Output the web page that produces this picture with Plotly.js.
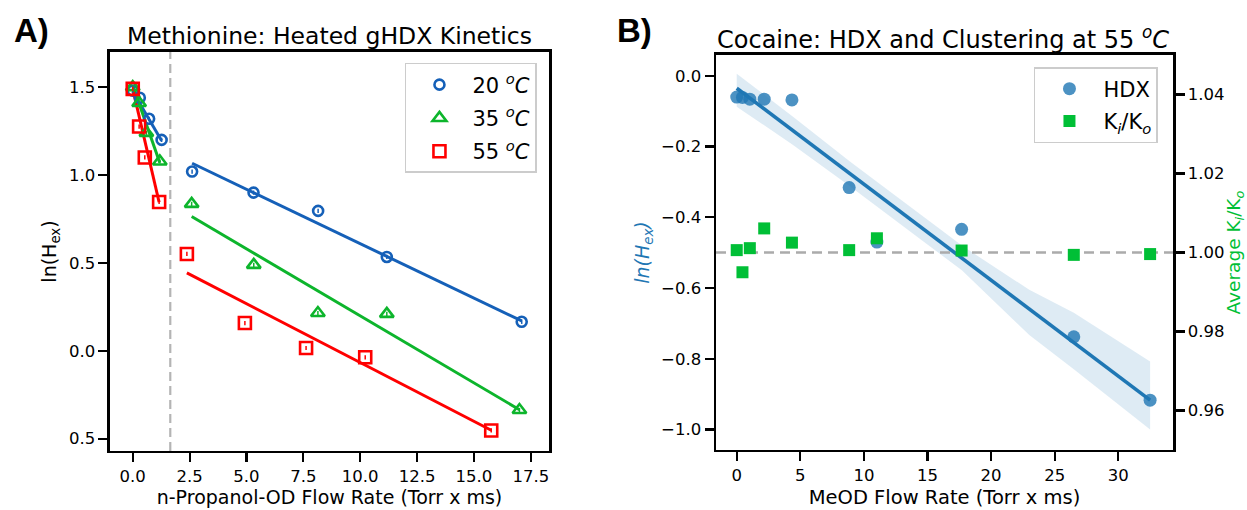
<!DOCTYPE html>
<html>
<head>
<meta charset="utf-8">
<script src="https://cdn.plot.ly/plotly-3.0.1.min.js"></script>
<style>html,body{margin:0;padding:0;background:#fff;}#chart{width:1247px;height:510px;}</style>
</head>
<body>
<div id="chart"></div>
<script>
// ---------- Panel A: Methionine heated gHDX kinetics ----------
const t20X = [0, 0.31, 0.72, 1.27, 2.61, 5.31, 8.15, 11.17, 17.1];
const t20Y = [1.48, 1.44, 1.32, 1.20, 1.02, 0.90, 0.796, 0.534, 0.165];
const t35X = [0, 0.28, 0.60, 1.19, 2.59, 5.32, 8.14, 11.17, 17.0];
const t35Y = [1.50, 1.41, 1.24, 1.077, 0.836, 0.489, 0.215, 0.21, -0.337];
const t55X = [0, 0.28, 0.53, 1.16, 2.38, 4.93, 7.62, 10.22, 15.76];
const t55Y = [1.49, 1.276, 1.10, 0.847, 0.551, 0.158, 0.016, -0.037, -0.453];
const errA = 0.012;

// fitted lines
const fit20EarlyX = [0, 1.27], fit20EarlyY = [1.475, 1.195];
const fit35EarlyX = [0, 1.19], fit35EarlyY = [1.51, 1.07];
const fit55EarlyX = [0, 1.16], fit55EarlyY = [1.49, 0.845];
const fit20LateX = [2.61, 17.1], fit20LateY = [1.067, 0.17];
const fit35LateX = [2.59, 17.0], fit35LateY = [0.764, -0.335];
const fit55LateX = [2.38, 15.76], fit55LateY = [0.443, -0.452];
const cutoffX = 1.65;

const ticksAX = [0, 2.5, 5, 7.5, 10, 12.5, 15, 17.5];
const ticksAY = [-0.5, 0, 0.5, 1.0, 1.5];
const ticksAYText = ['0.5', '0.0', '0.5', '1.0', '1.5'];

// ---------- Panel B: Cocaine HDX and clustering at 55 C ----------
const hdxX = [0, 0.45, 1.03, 2.16, 4.34, 8.84, 11.02, 17.68, 26.5, 32.5];
const hdxY = [-0.06, -0.061, -0.066, -0.066, -0.068, -0.316, -0.47, -0.434, -0.738, -0.917];
const kX = [0, 0.45, 1.03, 2.16, 4.34, 8.84, 11.02, 17.68, 26.5, 32.5];
const kY = [1.0006, 0.995, 1.0011, 1.0061, 1.0025, 1.0006, 1.0036, 1.0005, 0.9994, 0.9996];
const fitBX = [0, 32.5], fitBY = [-0.035, -0.917];
const bandX = [0, 4.4, 8.9, 17.7, 23.0, 26.5, 32.5];
const bandUpper = [0.006, -0.115, -0.242, -0.48, -0.605, -0.67, -0.808];
const bandLower = [-0.087, -0.195, -0.312, -0.55, -0.733, -0.83, -1.00];
const refK = 1.0;

const BLUE = '#1560b8', GREEN = '#0db52c', RED = '#ff0000';
const TAB = '#1f77b4', KGREEN = '#00bf36';
const FONT = 'DejaVu Sans, Liberation Sans, sans-serif';

function lineTr(x, y, color, xa, ya, w) {
  return {x: x, y: y, type: 'scatter', mode: 'lines', xaxis: xa, yaxis: ya,
    line: {color: color, width: w || 3}, showlegend: false, hoverinfo: 'skip'};
}
function ptsTr(x, y, color, symbol, size, name) {
  return {x: x, y: y, type: 'scatter', mode: 'markers', name: name, xaxis: 'x', yaxis: 'y',
    marker: {symbol: symbol, size: size, color: color, line: {color: color, width: 2.6}},
    error_y: {type: 'constant', value: errA, color: color, thickness: 1.5, width: 0},
    legend: 'legend', legendgroup: name};
}

const traces = [
  {x: [cutoffX, cutoffX], y: [-0.57, 1.70], type: 'scatter', mode: 'lines', xaxis: 'x', yaxis: 'y',
   line: {color: '#b4b4b4', width: 2.2, dash: '9px,5px'}, showlegend: false, hoverinfo: 'skip'},
  lineTr(fit20EarlyX, fit20EarlyY, BLUE, 'x', 'y'),
  lineTr(fit35EarlyX, fit35EarlyY, GREEN, 'x', 'y'),
  lineTr(fit55EarlyX, fit55EarlyY, RED, 'x', 'y'),
  lineTr(fit20LateX, fit20LateY, BLUE, 'x', 'y'),
  lineTr(fit35LateX, fit35LateY, GREEN, 'x', 'y'),
  lineTr(fit55LateX, fit55LateY, RED, 'x', 'y'),
  ptsTr(t20X, t20Y, BLUE, 'circle-open', 10, '20 <sup><i>o</i></sup><i>C</i>'),
  ptsTr(t35X, t35Y, GREEN, 'triangle-up-open', 12, '35 <sup><i>o</i></sup><i>C</i>'),
  ptsTr(t55X, t55Y, RED, 'square-open', 12, '55 <sup><i>o</i></sup><i>C</i>'),
  // Panel B
  {x: bandX.concat(bandX.slice().reverse()), y: bandUpper.concat(bandLower.slice().reverse()),
   type: 'scatter', mode: 'lines', fill: 'toself', fillcolor: 'rgba(31,119,180,0.15)',
   line: {width: 0, color: 'rgba(0,0,0,0)'}, xaxis: 'x2', yaxis: 'y2', showlegend: false, hoverinfo: 'skip'},
  lineTr(fitBX, fitBY, TAB, 'x2', 'y2', 3.6),
  {x: hdxX, y: hdxY, type: 'scatter', mode: 'markers', name: 'HDX', xaxis: 'x2', yaxis: 'y2',
   marker: {symbol: 'circle', size: 13, color: 'rgba(31,119,180,0.8)', line: {width: 0}},
   legend: 'legend2', legendgroup: 'hdx'},
  {x: [-1.63, 34.3], y: [refK, refK], type: 'scatter', mode: 'lines', xaxis: 'x2', yaxis: 'y3',
   line: {color: '#ababab', width: 2.5, dash: '10px,6px'}, showlegend: false, hoverinfo: 'skip'},
  {x: kX, y: kY, type: 'scatter', mode: 'markers', name: 'K<sub><i>i</i></sub>/K<sub><i>o</i></sub>',
   xaxis: 'x2', yaxis: 'y3',
   marker: {symbol: 'square', size: 12, color: KGREEN, line: {width: 0}},
   legend: 'legend2', legendgroup: 'k'}
];

const axBase = {
  showline: true, linecolor: '#000', linewidth: 2.5, mirror: true,
  ticks: 'outside', ticklen: 9, tickwidth: 2.2, tickcolor: '#000',
  showgrid: false, zeroline: false,
  tickfont: {family: FONT, size: 16.5, color: '#000'}
};

const layout = {
  width: 1247, height: 510,
  margin: {l: 0, r: 0, t: 0, b: 0},
  paper_bgcolor: '#fff', plot_bgcolor: '#fff',
  font: {family: FONT, color: '#000'},
  xaxis: Object.assign({}, axBase, {
    domain: [0.08821, 0.44026], range: [-1.0, 18.3], tickvals: ticksAX, tickformat: '.1f',
    title: {text: 'n-Propanol-OD Flow Rate (Torr x ms)', font: {family: FONT, size: 19}, standoff: 6},
    anchor: 'y'}),
  yaxis: Object.assign({}, axBase, {
    domain: [0.11569, 0.89804], range: [-0.57, 1.70], tickvals: ticksAY, ticktext: ticksAYText,
    title: {text: 'ln(H<sub>ex</sub>)', font: {family: FONT, size: 19}, standoff: 8},
    anchor: 'x'}),
  xaxis2: Object.assign({}, axBase, {
    domain: [0.57418, 0.94066], range: [-1.63, 34.3], dtick: 5, tick0: 0,
    title: {text: 'MeOD Flow Rate (Torr x ms)', font: {family: FONT, size: 19.5}, standoff: 6},
    anchor: 'y2'}),
  yaxis2: Object.assign({}, axBase, {
    domain: [0.11765, 0.89216], range: [-1.058, 0.059], dtick: 0.2, tick0: 0, tickformat: '.1f',
    title: {text: '<i>ln(H<sub>ex</sub>)</i>', font: {family: FONT, size: 19, color: TAB}, standoff: 7},
    anchor: 'x2'}),
  yaxis3: Object.assign({}, axBase, {
    overlaying: 'y2', side: 'right', anchor: 'x2', mirror: false,
    range: [0.95, 1.05], dtick: 0.02, tick0: 0.96, tickformat: '.2f',
    title: {text: 'Average K<sub><i>i</i></sub>/K<sub><i>o</i></sub>', font: {family: FONT, size: 18.5, color: KGREEN}, standoff: 6}}),
  legend: {
    x: 0.4306, y: 0.8765, xanchor: 'right', yanchor: 'top',
    bgcolor: 'rgba(255,255,255,0.85)', bordercolor: '#cccccc', borderwidth: 1.5,
    font: {family: FONT, size: 21, color: '#000'}, tracegroupgap: 3, itemwidth: 56
  },
  legend2: {
    x: 0.9286, y: 0.8686, xanchor: 'right', yanchor: 'top',
    bgcolor: 'rgba(255,255,255,0.85)', bordercolor: '#cccccc', borderwidth: 1.5,
    font: {family: FONT, size: 21, color: '#000'}, tracegroupgap: 2, itemwidth: 58
  },
  annotations: [
    {text: '<b>A)</b>', x: 31, y: 30, xref: 'paper', yref: 'paper', showarrow: false,
     font: {family: 'Liberation Sans, Arial, sans-serif', size: 33, color: '#000'}},
    {text: '<b>B)</b>', x: 634, y: 30, xref: 'paper', yref: 'paper', showarrow: false,
     font: {family: 'Liberation Sans, Arial, sans-serif', size: 33, color: '#000'}},
    {text: 'Methionine: Heated gHDX Kinetics', x: 329.5, y: 36, xref: 'paper', yref: 'paper', showarrow: false,
     font: {family: FONT, size: 23.5, color: '#000'}},
    {text: 'Cocaine: HDX and Clustering at 55 <sup><i>o</i></sup><i>C</i>', x: 943, y: 38, xref: 'paper', yref: 'paper', showarrow: false,
     font: {family: FONT, size: 24, color: '#000'}}
  ]
};
// convert pixel positions of annotations to paper fractions
layout.annotations.forEach(a => { a.x = a.x / 1247; a.y = 1 - a.y / 510; a.xanchor = 'center'; a.yanchor = 'middle'; });

Plotly.newPlot('chart', traces, layout, {staticPlot: true, displayModeBar: false});
</script>
</body>
</html>
